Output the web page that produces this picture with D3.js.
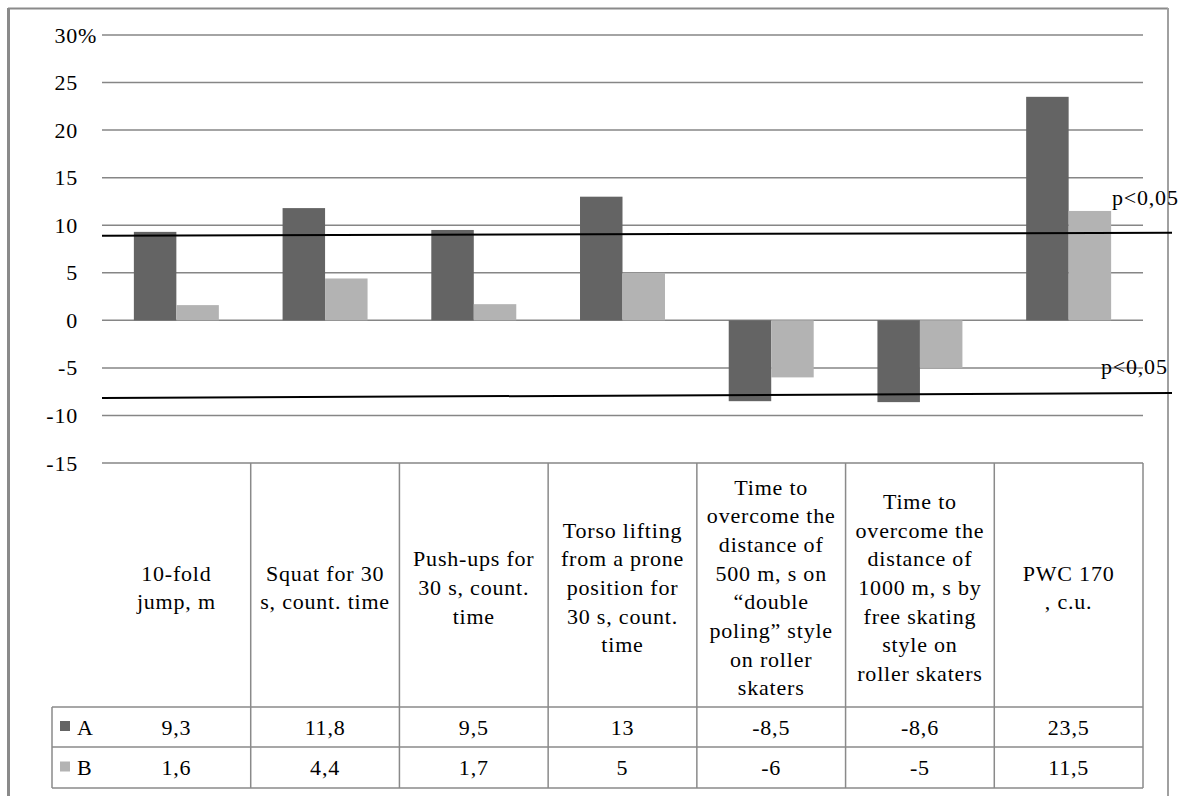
<!DOCTYPE html>
<html><head><meta charset="utf-8">
<script src="https://cdn.jsdelivr.net/npm/d3@7"></script>
<style>body{margin:0;background:#fff}svg{display:block}</style>
</head><body>
<svg id="c" width="1188" height="796"></svg>
<script>
// ---------- data ----------
const categories = ["jump10", "squat30", "pushups30", "torso30", "time500", "time1000", "pwc170"];
const categoryLabels = [
  ["10-fold", "jump, m"],
  ["Squat for 30", "s, count. time"],
  ["Push-ups for", "30 s, count.", "time"],
  ["Torso lifting", "from a prone", "position for", "30 s, count.", "time"],
  ["Time to", "overcome the", "distance of", "500 m, s on", "\u201cdouble", "poling\u201d style", "on roller", "skaters"],
  ["Time to", "overcome the", "distance of", "1000 m, s by", "free skating", "style on", "roller skaters"],
  ["PWC 170", ", c.u."]
];
const seriesNames = ["A", "B"];
const valuesA = [9.3, 11.8, 9.5, 13, -8.5, -8.6, 23.5];
const valuesB = [1.6, 4.4, 1.7, 5, -6, -5, 11.5];
const seriesColors = ["#646464", "#b3b3b3"];
const yTicks = [30, 25, 20, 15, 10, 5, 0, -5, -10, -15];
const thresholdStart = [8.9, -8.17];
const thresholdEnd = [9.21, -7.64];
const thresholdLabels = ["p<0,05", "p<0,05"];

// ---------- layout ----------
const W = 1188, H = 796;
const plotL = 102, plotR = 1143, plotT = 35, plotB = 463;
const headerB = 707, rowB1 = 747, rowB2 = 788, legendL = 52;
const FAMILY = "Liberation Serif";
const FS = 22, LS = 0.8;
const gridColor = "#868686";

const svg = d3.select("#c");
const y = d3.scaleLinear().domain([-15, 30]).range([plotB, plotT]);
const x = d3.scaleBand().domain(categories).range([plotL, plotR]).padding(0);
const step = x.bandwidth();
const barW = step / 3.5;
const xs = d3.scaleBand().domain(seriesNames).range([0, 2 * barW]).padding(0);
const fmt = v => String(v).replace(".", ",");

function txt(g, tx, ty, s, anchor, size) {
  return g.append("text")
    .attr("x", tx).attr("y", ty)
    .attr("text-anchor", anchor || "start")
    .style("font-family", FAMILY)
    .style("font-size", (size || FS) + "px")
    .style("letter-spacing", LS + "px")
    .attr("fill", "#000").text(s);
}

// outer border
svg.append("line").attr("x1", 8).attr("x2", 1168).attr("y1", 8.5).attr("y2", 8.5).attr("stroke", "#8a8a8a").attr("stroke-width", 2);
svg.append("line").attr("x1", 8.5).attr("x2", 8.5).attr("y1", 8).attr("y2", H).attr("stroke", "#8a8a8a").attr("stroke-width", 3);
svg.append("line").attr("x1", 1168).attr("x2", 1168).attr("y1", 8).attr("y2", H).attr("stroke", "#a0a0a0").attr("stroke-width", 2);

// gridlines
svg.append("g").selectAll("line").data(yTicks).join("line")
  .attr("x1", plotL).attr("x2", plotR)
  .attr("y1", d => y(d)).attr("y2", d => y(d))
  .attr("stroke", gridColor).attr("stroke-width", 1.5);

// y tick labels
const yl = svg.append("g");
yTicks.forEach(t => {
  txt(yl, 78, y(t) + 7.5, String(t), "end");
});
txt(yl, 78, y(30) + 7.5, "%", "start");

// bars
const series = [valuesA, valuesB];
const bars = svg.append("g");
series.forEach((vals, si) => {
  bars.selectAll(null).data(vals.map((v, i) => ({v, c: categories[i]}))).join("rect")
    .attr("x", d => x(d.c) + step * 0.75 / 3.5 + xs(seriesNames[si]))
    .attr("width", xs.bandwidth())
    .attr("y", d => y(Math.max(0, d.v)))
    .attr("height", d => Math.abs(y(d.v) - y(0)))
    .attr("fill", seriesColors[si]);
});

// threshold lines
const th = svg.append("g");
thresholdStart.forEach((v0, i) => {
  const v1 = thresholdEnd[i];
  const xEnd = plotR + 29;
  th.append("line").attr("x1", plotL).attr("x2", xEnd)
    .attr("y1", y(v0)).attr("y2", y(v1))
    .attr("stroke", "#000").attr("stroke-width", 2);
});
txt(th, 1112, y(thresholdEnd[0]) - 28, thresholdLabels[0], "start");
txt(th, 1101, y(thresholdEnd[1]) - 19, thresholdLabels[1], "start");

// data table
const tbl = svg.append("g");
const tc = "#8a8a8a";
categories.forEach((c, i) => {
  const xx = x(c) + step;
  tbl.append("line").attr("x1", xx).attr("x2", xx).attr("y1", plotB).attr("y2", rowB2)
    .attr("stroke", tc).attr("stroke-width", 1.5);
});
[headerB, rowB1, rowB2].forEach(yy => {
  tbl.append("line").attr("x1", legendL).attr("x2", plotR).attr("y1", yy).attr("y2", yy)
    .attr("stroke", tc).attr("stroke-width", 1.5);
});
tbl.append("line").attr("x1", legendL).attr("x2", legendL).attr("y1", headerB).attr("y2", rowB2)
  .attr("stroke", tc).attr("stroke-width", 1.5);

// category header text
const LH = 28.7, headerC = 588;
categoryLabels.forEach((lines, i) => {
  const cx = x(categories[i]) + step / 2;
  const n = lines.length;
  lines.forEach((s, j) => {
    txt(tbl, cx, headerC + (j - (n - 1) / 2) * LH + 7, s, "middle");
  });
});

// rows
const rowCenters = [(headerB + rowB1) / 2, (rowB1 + rowB2) / 2];
series.forEach((vals, si) => {
  const cy = rowCenters[si];
  tbl.append("rect").attr("x", 60).attr("y", cy - 6).attr("width", 10).attr("height", 10).attr("fill", seriesColors[si]);
  txt(tbl, 77, cy + 7.5, seriesNames[si], "start");
  vals.forEach((v, i) => {
    txt(tbl, x(categories[i]) + step / 2, cy + 7.5, fmt(v), "middle");
  });
});
</script>
</body></html>
